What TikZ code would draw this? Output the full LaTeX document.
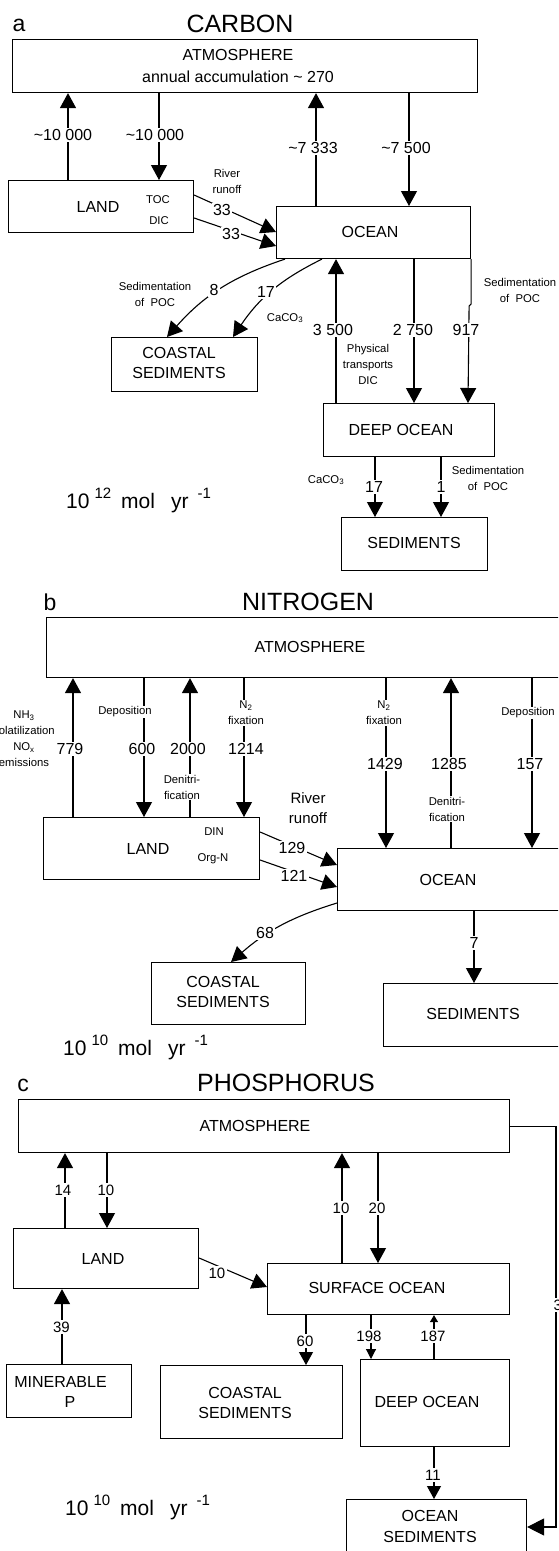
\documentclass[tikz,border=0pt]{standalone}
\usepackage{fontspec}
\setmainfont{Liberation Sans}
\usetikzlibrary{arrows.meta,calc}
\begin{document}
\begin{tikzpicture}[x=1pt,y=-1pt,
  box/.style={draw, line width=1.1pt, inner sep=0pt, anchor=north west},
  conn/.style={line width=1.1pt},
  arr/.style={conn, -{Triangle[length=15pt,width=16pt]}},
  arrm/.style={conn, -{Triangle[length=13pt,width=14pt]}},
  arrs/.style={conn, -{Triangle[length=10pt,width=10pt]}},
  arrxs/.style={conn, -{Triangle[length=7pt,width=8pt]}},
  num/.style={fill=white, inner sep=1.5pt, font=\fontsize{16}{16}\selectfont},
  numc/.style={fill=white, inner sep=1.5pt, font=\fontsize{15}{15}\selectfont},
  sm/.style={fill=white, inner sep=1pt, align=center, font=\fontsize{11.3}{16}\selectfont},
  bl/.style={inner sep=0pt, align=center, font=\fontsize{16}{20}\selectfont},
  ttl/.style={inner sep=0pt, font=\fontsize{25}{25}\selectfont},
  plet/.style={inner sep=0pt, font=\fontsize{23}{23}\selectfont},
  unit/.style={inner sep=0pt, anchor=base west, font=\fontsize{21}{21}\selectfont}]
\useasboundingbox (0,0) rectangle (558,1551);
\clip (0,0) rectangle (558,1551);

% ================= a CARBON =================
\node[plet] (la) at (19,25) {a};
\node[ttl] (ta) at (240,24) {CARBON};
\node[box, minimum width=465pt, minimum height=53pt] (aatm) at (12,39) {};
\node[bl] (aatmt) at (238,55) {ATMOSPHERE};
\node[bl] (aatmu) at (238,77) {annual accumulation \textasciitilde{} 270};
\node[box, minimum width=185pt, minimum height=52pt] (aland) at (8,180) {};
\node[bl] (alandt) at (98,207) {LAND};
\node[sm] (atoc) at (158,200) {TOC};
\node[sm] (adic) at (159,221) {DIC};
\node[box, minimum width=194pt, minimum height=52pt] (aocean) at (276,206) {};
\node[bl] (aoceant) at (370,232) {OCEAN};
\node[box, minimum width=146pt, minimum height=54pt] (acoast) at (111,337) {};
\node[bl] (acoastt) at (179,363) {COASTAL\\SEDIMENTS};
\node[box, minimum width=171pt, minimum height=53pt] (adeep) at (323,403) {};
\node[bl] (adeept) at (401,430) {DEEP OCEAN};
\node[box, minimum width=146pt, minimum height=53pt] (ased) at (341,517) {};
\node[bl] (asedt) at (414,543) {SEDIMENTS};

\draw[arr] (68,0 |- aland.north) -- (68,0 |- aatm.south);
\node[num] (a1) at (63,135) {\textasciitilde10 000};
\draw[arr] (159,0 |- aatm.south) -- (159,0 |- aland.north);
\node[num] (a2) at (155,135) {\textasciitilde10 000};
\draw[arr] (316,0 |- aocean.north) -- (316,0 |- aatm.south);
\node[num] (a3) at (313,148) {\textasciitilde7 333};
\draw[arr] (409,0 |- aatm.south) -- (409,0 |- aocean.north);
\node[num] (a4) at (406,148) {\textasciitilde7 500};
\draw[arr] (aland.east |- 0,195) -- (aocean.west |- 0,232);
\node[num] (a5) at (222,210) {33};
\draw[arr] (aland.east |- 0,218) -- (aocean.west |- 0,246);
\node[num] (a6) at (231,234) {33};
\node[sm] (ariv) at (227,181) {River\\runoff};
\draw[arr] (285,0 |- aocean.south) to[bend right=15] (167,0 |- acoast.north);
\node[num] (a7) at (214,290) {8};
\draw[arr] (322,0 |- aocean.south) to[bend right=15] (233,0 |- acoast.north);
\node[num] (a8) at (266,292) {17};
\node[sm] (asedl) at (155,294) {Sedimentation\\of\ \ POC};
\node[sm] (acac) at (285,318) {CaCO\textsubscript{3}};
\draw[arr] (336,0 |- adeep.north) -- (336,0 |- aocean.south);
\node[num] (a9) at (333,330) {3 500};
\node[sm] (aphys) at (368,364) {Physical\\transports\\DIC};
\draw[arr] (414,0 |- aocean.south) -- (414,0 |- adeep.north);
\node[num] (a10) at (413,330) {2 750};
\draw[arr] (aocean.south east) -- ++(0,45) -- ++(-2,2) -- (468,0 |- adeep.north);
\node[num] (a11) at (466,330) {917};
\node[sm] (asedr) at (520,290) {Sedimentation\\of\ \ POC};
\draw[arr] (375,0 |- adeep.south) -- (375,0 |- ased.north);
\node[num] (a12) at (374,487) {17};
\node[sm] (acac2) at (326,480) {CaCO\textsubscript{3}};
\draw[arr] (441,0 |- adeep.south) -- (441,0 |- ased.north);
\node[num] (a13) at (441,487) {1};
\node[sm] (ased2) at (488,478) {Sedimentation\\of\ \ POC};
\node[unit] (aunit) at (66,508) {10\hspace{5pt}\raisebox{9.5pt}{\fontsize{15}{15}\selectfont 12}\hspace{10pt}mol\hspace{16pt}yr\hspace{9pt}\raisebox{9.5pt}{\fontsize{15}{15}\selectfont -1}};

% ================= b NITROGEN =================
\node[plet] (lb) at (50,602) {b};
\node[ttl] (tb) at (308,602) {NITROGEN};
\node[box, minimum width=528pt, minimum height=60pt] (batm) at (46,617) {};
\node[bl] (batmt) at (310,647) {ATMOSPHERE};
\node[box, minimum width=216pt, minimum height=62pt] (bland) at (43,817) {};
\node[bl] (blandt) at (148,849) {LAND};
\node[sm] (bdin) at (214,832) {DIN};
\node[sm] (borg) at (213,859) {Org-N};
\node[box, minimum width=223pt, minimum height=62pt] (bocean) at (337,848) {};
\node[bl] (boceant) at (448,880) {OCEAN};
\node[box, minimum width=154pt, minimum height=62pt] (bcoast) at (151,962) {};
\node[bl] (bcoastt) at (223,992) {COASTAL\\SEDIMENTS};
\node[box, minimum width=180pt, minimum height=63pt] (bsed) at (383,983) {};
\node[bl] (bsedt) at (473,1014) {SEDIMENTS};

\node[sm, fill=none] (bnh) at (24,739) {NH\textsubscript{3}\\volatilization\\NO\textsubscript{x}\\emissions};
\draw[arr] (73,0 |- bland.north) -- (73,0 |- batm.south);
\node[num] (b1) at (70,749) {779};
\draw[arr] (144,0 |- batm.south) -- (144,0 |- bland.north);
\node[sm] (bdep1) at (125,712) {Deposition};
\node[num] (b2) at (142,749) {600};
\draw[arr] (190,0 |- bland.north) -- (190,0 |- batm.south);
\node[num] (b3) at (188,749) {2000};
\node[sm] (bden1) at (182,787) {Denitri-\\fication};
\draw[arr] (244,0 |- batm.south) -- (244,0 |- bland.north);
\node[sm] (bfix1) at (246,713) {N\textsubscript{2}\\fixation};
\node[num] (b4) at (246,749) {1214};
\draw[arr] (386,0 |- batm.south) -- (386,0 |- bocean.north);
\node[sm] (bfix2) at (384,713) {N\textsubscript{2}\\fixation};
\node[num] (b5) at (385,764) {1429};
\draw[arr] (451,0 |- bocean.north) -- (451,0 |- batm.south);
\node[num] (b6) at (449,764) {1285};
\node[sm] (bden2) at (447,809) {Denitri-\\fication};
\draw[arr] (532,0 |- batm.south) -- (532,0 |- bocean.north);
\node[sm] (bdep2) at (528,713) {Deposition};
\node[num] (b7) at (530,764) {157};
\draw[arr] (bland.east |- 0,832) -- (bocean.west |- 0,865);
\node[num] (b8) at (292,848) {129};
\draw[arr] (bland.east |- 0,860) -- (bocean.west |- 0,887);
\node[num] (b9) at (294,876) {121};
\node[inner sep=0pt, align=center, font=\fontsize{15}{20}\selectfont] (briv) at (308,808) {River\\runoff};
\draw[arr] (bocean.west |- 0,903) to[bend right=12] (231,0 |- bcoast.north);
\node[num] (b10) at (265,933) {68};
\draw[arr] (474,0 |- bocean.south) -- (474,0 |- bsed.north);
\node[num] (b11) at (474,943) {7};
\node[unit] (bunit) at (63,1055) {10\hspace{5pt}\raisebox{9.5pt}{\fontsize{15}{15}\selectfont 10}\hspace{10pt}mol\hspace{16pt}yr\hspace{9pt}\raisebox{9.5pt}{\fontsize{15}{15}\selectfont -1}};

% ================= c PHOSPHORUS =================
\node[plet] (lc) at (23,1085) {c};
\node[ttl] (tc) at (286,1083) {PHOSPHORUS};
\node[box, minimum width=491pt, minimum height=53pt] (catm) at (18,1099) {};
\node[bl] (catmt) at (255,1126) {ATMOSPHERE};
\node[box, minimum width=185pt, minimum height=60pt] (cland) at (13,1228) {};
\node[bl] (clandt) at (103,1259) {LAND};
\node[box, minimum width=242pt, minimum height=51pt] (csurf) at (267,1263) {};
\node[bl] (csurft) at (377,1288) {SURFACE OCEAN};
\node[box, minimum width=125pt, minimum height=53pt] (cmin) at (6,1364) {};
\node[bl] (cmint) at (60.5,1382) {MINERABLE};
\node[bl] (cmint2) at (70,1402) {P};
\node[box, minimum width=182pt, minimum height=73pt] (ccoast) at (160,1365) {};
\node[bl] (ccoastt) at (245,1403) {COASTAL\\SEDIMENTS};
\node[box, minimum width=149pt, minimum height=87pt] (cdeep) at (360,1359) {};
\node[bl] (cdeept) at (427,1402) {DEEP OCEAN};
\node[box, minimum width=180pt, minimum height=62pt] (csed) at (346,1499) {};
\node[inner sep=0pt, align=center, font=\fontsize{16}{21}\selectfont] (csedt) at (430,1526.5) {OCEAN\\SEDIMENTS};

\draw[arr] (65,0 |- cland.north) -- (65,0 |- catm.south);
\node[numc] (c1) at (63,1190) {14};
\draw[arr] (107,0 |- catm.south) -- (107,0 |- cland.north);
\node[numc] (c2) at (106,1190) {10};
\draw[arr] (342,0 |- csurf.north) -- (342,0 |- catm.south);
\node[numc] (c3) at (341,1208) {10};
\draw[arr] (378,0 |- catm.south) -- (378,0 |- csurf.north);
\node[numc] (c4) at (377,1208) {20};
\draw[arr] (cland.east |- 0,1258) -- (csurf.west |- 0,1287);
\node[numc] (c5) at (217,1273) {10};
\draw[arr] (62,0 |- cmin.north) -- (62,0 |- cland.south);
\node[numc] (c6) at (61.5,1327) {39};
\draw[arrm] (306,0 |- csurf.south) -- (306,0 |- ccoast.north);
\node[numc] (c7) at (305,1341) {60};
\draw[arrs] (371,0 |- csurf.south) -- (371,0 |- cdeep.north);
\node[numc] (c8) at (369,1336) {198};
\draw[arrxs] (434,0 |- cdeep.north) -- (434,0 |- csurf.south);
\node[numc] (c9) at (433,1336) {187};
\draw[arrm] (434,0 |- cdeep.south) -- (434,0 |- csed.north);
\node[numc] (c10) at (433,1475) {11};
\draw[conn, -{Triangle[length=17pt,width=17pt]}] (catm.east) -- (556,0 |- catm.east) -- (556,1527) -- (csed.east |- 0,1527);
\node[numc, anchor=west] (c11) at (552,1305) {3};
\node[unit] (cunit) at (65,1515) {10\hspace{5pt}\raisebox{9.5pt}{\fontsize{15}{15}\selectfont 10}\hspace{10pt}mol\hspace{16pt}yr\hspace{9pt}\raisebox{9.5pt}{\fontsize{15}{15}\selectfont -1}};
\end{tikzpicture}
\end{document}
